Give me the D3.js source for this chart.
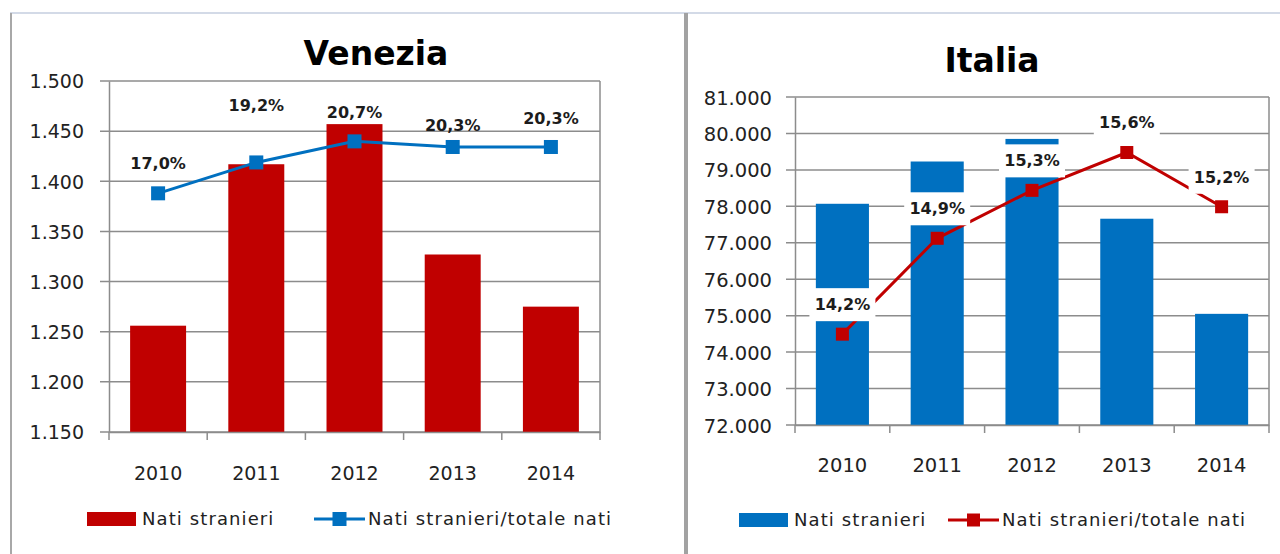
<!DOCTYPE html>
<html>
<head>
<meta charset="utf-8">
<script src="https://cdn.jsdelivr.net/npm/d3@7"></script>
<style>
    body { margin: 0; background: #fff; }
    svg text { font-family: "DejaVu Sans", sans-serif; }
</style>
</head>
<body>
<svg id="chart" width="1280" height="554"></svg>
<script>
"use strict";

// data
var years = ["2010", "2011", "2012", "2013", "2014"];
var venBirths = [1256, 1417, 1457, 1327, 1275];
var venShare = [0.170, 0.192, 0.207, 0.203, 0.203];
var venTicks = [1150, 1200, 1250, 1300, 1350, 1400, 1450, 1500];
var itaBirths = [78070, 79230, 79850, 77660, 75050];
var itaShare = [0.1417, 0.1493, 0.1531, 0.1561, 0.1518];
var itaTicks = [72000, 73000, 74000, 75000, 76000, 77000, 78000, 79000, 80000, 81000];
var legendNames = ["Nati stranieri", "Nati stranieri/totale nati"];

var itLocale = d3.formatLocale({decimal: ",", thousands: ".", grouping: [3], currency: ["", " €"]}),
    fmtNum = itLocale.format(",.0f"),
    fmtPct = itLocale.format(".1%"),
    gridColor = "#8c8c8c",
    svg = d3.select("#chart");


function drawFrame () {
    svg.append("rect").attr("width", 1280).attr("height", 554).attr("fill", "#fff");
    svg.append("line")
        .attr("x1", 10).attr("x2", 1280).attr("y1", 13).attr("y2", 13)
        .attr("stroke", "#d3dae7").attr("stroke-width", 2);
    svg.append("line")
        .attr("x1", 11).attr("x2", 11).attr("y1", 13).attr("y2", 554)
        .attr("stroke", "#a8a8a8").attr("stroke-width", 2);
    svg.append("rect")
        .attr("x", 684).attr("y", 13).attr("width", 4).attr("height", 541)
        .attr("fill", "#a2a2a2");
}


function drawPanel (p) {
    var g = svg.append("g"),
        x = d3.scaleBand().domain(years).range([p.left, p.right])
            .paddingInner(p.pad).paddingOuter(p.pad / 2),
        y = d3.scaleLinear().domain(p.yDomain).range([p.bottom, p.top]),
        ys = d3.scaleLinear().domain(p.shareDomain).range([p.bottom, p.top]),
        cx = function (d, i) { return x(years[i]) + x.bandwidth() / 2; },
        rows = years.map(function (yr, i) {
            return {year: yr, val: p.bars[i], share: p.share[i], i: i}; });

    g.append("text")
        .attr("x", p.titleX).attr("y", p.titleY)
        .attr("text-anchor", "middle")
        .attr("font-size", 33).attr("font-weight", "bold")
        .attr("fill", "#000")
        .text(p.title);

    //horizontal gridlines, reaching a bit left of the axis as ticks
    g.append("g").selectAll("line").data(p.ticks).join("line")
        .attr("x1", p.left - 9).attr("x2", p.right)
        .attr("y1", function (d) { return y(d); })
        .attr("y2", function (d) { return y(d); })
        .attr("stroke", gridColor).attr("stroke-width", 1.5);
    g.append("line")
        .attr("x1", p.right).attr("x2", p.right)
        .attr("y1", p.top).attr("y2", p.bottom)
        .attr("stroke", gridColor).attr("stroke-width", 1.5);

    g.append("g").selectAll("rect").data(rows).join("rect")
        .attr("x", function (d) { return x(d.year); })
        .attr("y", function (d) { return y(d.val); })
        .attr("width", x.bandwidth())
        .attr("height", function (d) { return p.bottom - y(d.val); })
        .attr("fill", p.barColor);

    var yAxis = g.append("g")
        .attr("transform", "translate(" + p.left + ",0)")
        .call(d3.axisLeft(y).tickValues(p.ticks).tickSize(0)
              .tickPadding(p.labelGap).tickFormat(fmtNum));
    yAxis.select(".domain").attr("stroke", gridColor).attr("stroke-width", 1.5);
    yAxis.selectAll("text")
        .attr("font-family", "DejaVu Sans").attr("font-size", p.tickFont)
        .attr("fill", "#222").attr("dy", "0.36em");

    var xAxis = g.append("g")
        .attr("transform", "translate(0," + p.bottom + ")")
        .call(d3.axisBottom(x).tickSize(0).tickPadding(p.xLabelPad));
    xAxis.select(".domain").attr("stroke", gridColor).attr("stroke-width", 1.5);
    xAxis.selectAll("text")
        .attr("font-family", "DejaVu Sans").attr("font-size", p.tickFont)
        .attr("fill", "#222");
    //category boundary ticks
    g.append("g").selectAll("line").data(d3.range(years.length + 1)).join("line")
        .attr("x1", function (i) { return p.left + i * x.step(); })
        .attr("x2", function (i) { return p.left + i * x.step(); })
        .attr("y1", p.bottom).attr("y2", p.bottom + 8)
        .attr("stroke", gridColor).attr("stroke-width", 1.5);

    var line = d3.line()
        .x(function (d) { return cx(d, d.i); })
        .y(function (d) { return ys(d.share); });
    g.append("path").datum(rows)
        .attr("d", line)
        .attr("fill", "none")
        .attr("stroke", p.lineColor).attr("stroke-width", 3);
    g.append("g").selectAll("rect").data(rows).join("rect")
        .attr("x", function (d) { return cx(d, d.i) - p.marker / 2; })
        .attr("y", function (d) { return ys(d.share) - p.marker / 2; })
        .attr("width", p.marker).attr("height", p.marker)
        .attr("fill", p.lineColor);

    //percentage labels (Italia ones have a white box behind)
    var lab = g.append("g").selectAll("g").data(rows).join("g")
        .attr("transform", function (d) {
            return "translate(" + cx(d, d.i) + "," +
                (ys(d.share) - p.labelLift[d.i]) + ")"; });
    if(p.labelBox) {
        lab.append("rect")
            .attr("x", -33).attr("y", -16)
            .attr("width", 66).attr("height", 33)
            .attr("fill", "#fff"); }
    lab.append("text")
        .attr("text-anchor", "middle")
        .attr("dy", "0.36em")
        .attr("font-size", 16).attr("font-weight", "bold")
        .attr("fill", "#1c1c1c")
        .text(function (d) { return fmtPct(d.share); });

    //legend
    var lg = g.append("g");
    lg.append("rect")
        .attr("x", p.legendX[0]).attr("y", p.legendY - 7)
        .attr("width", 49).attr("height", 14)
        .attr("fill", p.barColor);
    lg.append("line")
        .attr("x1", p.legendX[1]).attr("x2", p.legendX[1] + 51)
        .attr("y1", p.legendY).attr("y2", p.legendY)
        .attr("stroke", p.lineColor).attr("stroke-width", 3);
    lg.append("rect")
        .attr("x", p.legendX[1] + 25.5 - p.marker / 2)
        .attr("y", p.legendY - p.marker / 2)
        .attr("width", p.marker).attr("height", p.marker)
        .attr("fill", p.lineColor);
    lg.selectAll("text").data(legendNames).join("text")
        .attr("x", function (d, i) { return p.legendX[i] + (i === 0 ? 55 : 54); })
        .attr("y", p.legendY)
        .attr("dy", "0.36em")
        .attr("font-size", 18)
        .attr("letter-spacing", 1.1)
        .attr("fill", "#222")
        .text(function (d) { return d; });
}


drawFrame();
drawPanel({title: "Venezia", titleX: 376, titleY: 65,
           left: 109, right: 600, top: 81, bottom: 432,
           yDomain: [1150, 1500], shareDomain: [0, 0.25],
           bars: venBirths, share: venShare, ticks: venTicks,
           barColor: "#c00000", lineColor: "#0070c0", pad: 0.43,
           labelBox: false, labelLift: [30, 57, 29, 22, 29],
           marker: 14, tickFont: 19, labelGap: 25, xLabelPad: 35,
           legendX: [87, 314], legendY: 519});
drawPanel({title: "Italia", titleX: 992, titleY: 72,
           left: 795, right: 1269, top: 97, bottom: 425,
           yDomain: [72000, 81000], shareDomain: [0.1345, 0.1605],
           bars: itaBirths, share: itaShare, ticks: itaTicks,
           barColor: "#0070c0", lineColor: "#c00000", pad: 0.44,
           labelBox: true, labelLift: [30, 30, 30, 30, 30],
           marker: 13, tickFont: 19.5, labelGap: 23, xLabelPad: 33,
           legendX: [739, 948], legendY: 520});
</script>
</body>
</html>
